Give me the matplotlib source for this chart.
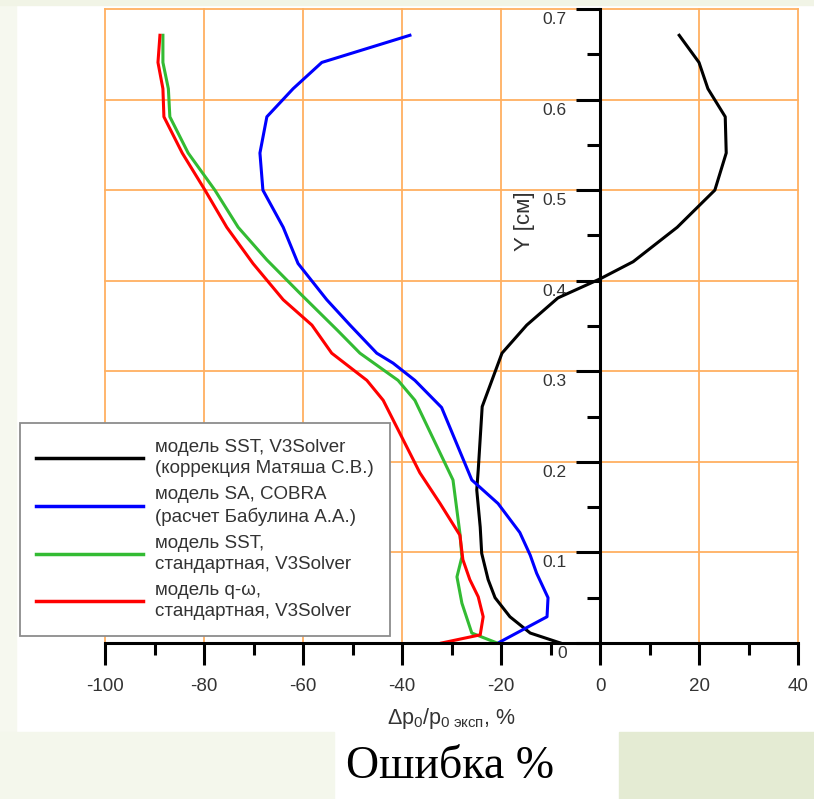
## error profiles: dp0/p0 vs Y, four models
import matplotlib
matplotlib.use("Agg")
import matplotlib.pyplot as plt
from matplotlib.patches import Rectangle
from matplotlib.ticker import MultipleLocator, FuncFormatter
from matplotlib.transforms import ScaledTranslation

plt.rcParams["font.family"] = ["Liberation Sans", "DejaVu Sans"]
plt.rcParams["axes.unicode_minus"] = False
plt.rcParams["mathtext.fontset"] = "custom"
plt.rcParams["mathtext.rm"] = "Liberation Sans"
plt.rcParams["mathtext.it"] = "Liberation Sans"

# Y [cm] and error [%] for each model
y_black = [0.671, 0.641, 0.612, 0.581, 0.541, 0.500, 0.459, 0.421, 0.402, 0.381, 0.351,
           0.320, 0.261, 0.191, 0.169, 0.128, 0.099, 0.070, 0.050, 0.029, 0.011, 0.0]
x_black = [16.0, 20.0, 21.8, 25.3, 25.5, 23.2, 15.6, 6.7, 0.0, -8.5, -14.8,
           -19.8, -23.8, -24.6, -24.9, -24.2, -23.9, -22.6, -21.2, -18.2, -14.1, -8.0]

y_blue = [0.671, 0.641, 0.612, 0.581, 0.541, 0.500, 0.459, 0.419, 0.379, 0.351, 0.320,
          0.309, 0.290, 0.260, 0.180, 0.154, 0.122, 0.097, 0.077, 0.050, 0.029, 0.0]
x_blue = [-38.4, -56.2, -62.0, -67.3, -68.7, -68.1, -64.0, -61.0, -55.2, -50.5, -45.1,
          -41.8, -37.4, -32.0, -25.9, -20.6, -16.2, -14.1, -12.8, -10.5, -10.7, -20.6]

y_green = [0.671, 0.641, 0.612, 0.581, 0.541, 0.500, 0.459, 0.423, 0.386, 0.345,
           0.320, 0.290, 0.268, 0.180, 0.121, 0.095, 0.073, 0.044, 0.011, 0.0]
x_green = [-88.3, -88.3, -87.2, -86.9, -83.2, -77.8, -73.1, -67.3, -60.6, -53.0,
           -48.5, -40.8, -37.4, -29.7, -28.3, -27.9, -28.9, -27.9, -25.9, -20.8]

y_red = [0.671, 0.641, 0.612, 0.581, 0.541, 0.500, 0.459, 0.419, 0.379, 0.351, 0.320,
         0.290, 0.268, 0.188, 0.154, 0.119, 0.092, 0.070, 0.051, 0.029, 0.009, 0.0]
x_red = [-88.9, -89.3, -88.3, -88.1, -84.4, -79.8, -75.4, -70.1, -64.0, -58.2, -54.2,
         -47.1, -43.8, -36.4, -32.3, -28.3, -27.7, -26.3, -24.6, -23.6, -24.2, -32.0]

labels = ["модель SST, V3Solver\n(коррекция Матяша С.В.)",
          "модель SA, COBRA\n(расчет Бабулина А.А.)",
          "модель SST,\nстандартная, V3Solver",
          "модель q-ω,\nстандартная, V3Solver"]

W, H = 814, 799
fig = plt.figure(figsize=(W / 100, H / 100), dpi=100)
fig.patch.set_facecolor("white")

# slide background bits
fig.add_artist(Rectangle((0, 0), 16 / W, 1, transform=fig.transFigure, color="#f6f8ef", zorder=0))
fig.add_artist(Rectangle((0, 1 - 5 / H), 1, 5 / H, transform=fig.transFigure, color="#f1f4e6", zorder=0))
fig.add_artist(Rectangle((0, 0), 334 / W, 67 / H, transform=fig.transFigure, color="#f4f7ec", zorder=0))
fig.add_artist(Rectangle((619 / W, 0), 195 / W, 67 / H, transform=fig.transFigure, color="#e4ebd3", zorder=0))

ax = fig.add_axes([105 / W, 1 - 643 / H, 693 / W, 634 / H])
ax.set_facecolor("none")

ax.plot(x_black, y_black, color="black", lw=2.2, label=labels[0])
ax.plot(x_blue, y_blue, color="#0000ff", lw=2.2, label=labels[1])
ax.plot(x_green, y_green, color="#33bb33", lw=2.2, label=labels[2])
ax.plot(x_red, y_red, color="#ff0000", lw=2.2, label=labels[3])

ax.set_xlim(-100, 40)
ax.set_ylim(0, 0.7)

for s in ["top", "right"]:
    ax.spines[s].set_visible(False)
ax.spines["left"].set_position(("data", 0))
ax.spines["bottom"].set_position(("data", 0))
ax.spines["left"].set_linewidth(2.2)
ax.spines["bottom"].set_linewidth(2.2)

ax.xaxis.set_major_locator(MultipleLocator(20))
ax.xaxis.set_minor_locator(MultipleLocator(10))
ax.yaxis.set_major_locator(MultipleLocator(0.1))
ax.yaxis.set_minor_locator(MultipleLocator(0.05))
ax.xaxis.set_major_formatter(FuncFormatter(lambda v, p: "%d" % round(v)))
ax.yaxis.set_major_formatter(FuncFormatter(lambda v, p: "0" if abs(v) < 1e-9 else "%.1f" % v))

ax.tick_params(axis="x", which="major", direction="out", length=16, width=2.2, pad=9,
               labelsize=13.5, labelcolor="#333333")
ax.tick_params(axis="x", which="minor", direction="out", length=8.5, width=2.2)
ax.tick_params(axis="y", which="major", direction="out", length=17, width=2.2, pad=7,
               labelsize=12.5, labelcolor="#333333")
ax.tick_params(axis="y", which="minor", direction="out", length=9.5, width=2.2)

ax.grid(True, which="major", color="#ffb061", lw=1.3)
ax.set_axisbelow(True)
for gl in ax.get_xgridlines() + ax.get_ygridlines():
    gl.set_clip_on(False)

# y tick labels sit a little below their ticks
shift = ScaledTranslation(0, -9 / 100, fig.dpi_scale_trans)
for lab in ax.get_yticklabels():
    lab.set_transform(lab.get_transform() + shift)

ax.set_xlabel("Δp$_0$/p$_{0\\ \\mathrm{эксп}}$, %", fontsize=15.5, color="#333333", labelpad=8)
ax.text(0.606, 0.666, "Y [см]", transform=ax.transAxes, rotation=90, ha="center", va="center",
        fontsize=16, color="#333333")

leg = ax.legend(loc="lower left", bbox_to_anchor=(20 / W, 1 - 636 / H), bbox_transform=fig.transFigure,
                borderaxespad=0, fontsize=13.5, handlelength=5.7, handletextpad=0.65,
                labelspacing=0.5, fancybox=False, framealpha=1, edgecolor="#8c8c8c",
                borderpad=0.85)
leg.get_frame().set_linewidth(1.3)
for t in leg.get_texts():
    t.set_color("#333333")
    t.set_linespacing(1.3)
for l in leg.get_lines():
    l.set_linewidth(2.5)

fig.text(450 / W, 1 - 767 / H, "Ошибка %", family="Liberation Serif", fontsize=33,
         ha="center", va="center", color="black")

fig.savefig("out.png", dpi=100, facecolor=fig.get_facecolor())
